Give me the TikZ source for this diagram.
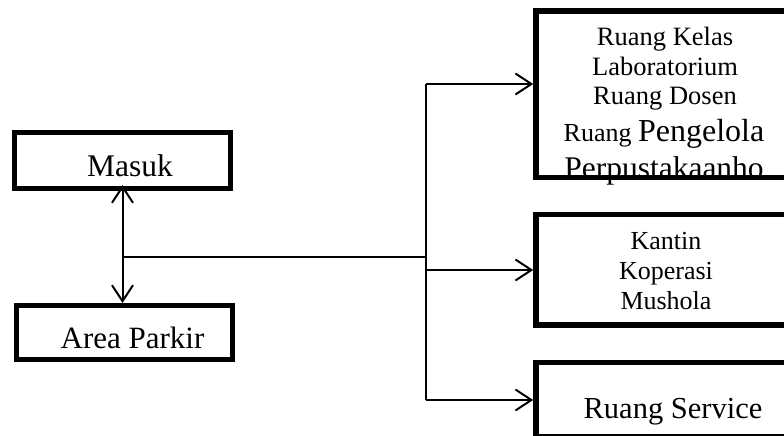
\documentclass[tikz,border=0pt]{standalone}
\usepackage{fontspec}
\setmainfont{Liberation Serif}
\usetikzlibrary{arrows.meta}

\tikzset{
  box/.style={draw=black, line width=5bp, inner sep=0pt, anchor=center},
  bigbox/.style={box, line width=5.5bp},
  label/.style={anchor=base, inner sep=0pt, text=black},
  link/.style={draw=black, line width=2bp},
  open/.style={link, -{Straight Barb[length=16bp,width=21bp]}},
  both/.style={link, {Straight Barb[length=16bp,width=21bp]}-{Straight Barb[length=16bp,width=21bp]}},
}
\newcommand{\fs}[1]{\fontsize{#1bp}{#1bp}\selectfont}

\begin{document}
\begin{tikzpicture}[x=1bp, y=-1bp]
  \useasboundingbox (0,0) rectangle (784,436);
  \clip (0,0) rectangle (784,436);
  \fill[white] (0,0) rectangle (784,436);

  % left column
  \node[box, minimum width=216bp, minimum height=56bp] (masuk) at (122.5,160.5) {};
  \node[box, minimum width=216bp, minimum height=54bp] (parkir) at (124.5,332.5) {};
  \node[label] (tmasuk) at (130,177) {\fs{31.5}Masuk};
  \node[label] (tparkir) at (132.5,349) {\fs{31}Area Parkir};

  % right column
  \node[bigbox, minimum width=364bp, minimum height=166.5bp] (kelas) at (718,94.25) {};
  \node[bigbox, minimum width=364bp, minimum height=110.5bp] (kantin) at (718,269.75) {};
  \node[bigbox, minimum width=364bp, minimum height=74.5bp] (service) at (718,399.75) {};

  \begin{scope}
    \clip (kelas.north west) rectangle ([yshift=-5.5bp]kelas.south east);
    \node[label] (k1) at (665,46) {\fs{26.5}Ruang Kelas};
    \node[label] (k2) at (665,75.5) {\fs{26.5}Laboratorium};
    \node[label] (k3) at (665,105) {\fs{26.5}Ruang Dosen};
    \node[label] (k4) at (664,142) {{\fs{26}Ruang }{\fs{32}Pengelola}};
    \node[label] (k5) at (664,179) {\fs{31.5}Perpustakaanho};
  \end{scope}
  % bottom edge of the box redrawn over the clipped line of text
  \draw[line width=5.5bp] ([yshift=2.75bp]kelas.south west) -- ([yshift=2.75bp]kelas.south east);

  \node[label] (c1) at (666,250) {\fs{26}Kantin};
  \node[label] (c2) at (666,280) {\fs{26}Koperasi};
  \node[label] (c3) at (666,310) {\fs{26}Mushola};

  \node[label] (s1) at (673,418) {\fs{30.5}Ruang Service};

  % connectors
  \draw[both] ([yshift=6bp]masuk.south) -- (masuk.south |- parkir.north);

  \coordinate (j1) at (122.5,257);
  \coordinate (j2) at (426,257);
  \coordinate (btop) at (426,84);
  \coordinate (bmid) at (426,270);
  \coordinate (bbot) at (426,400);

  \draw[link] (j1) -- (j2);
  \draw[link] (btop) -- (bbot);
  \draw[open] (btop) -- (btop -| kelas.west);
  \draw[open] (bmid) -- (bmid -| kantin.west);
  \draw[open] (bbot) -- (bbot -| service.west);
\end{tikzpicture}
\end{document}
